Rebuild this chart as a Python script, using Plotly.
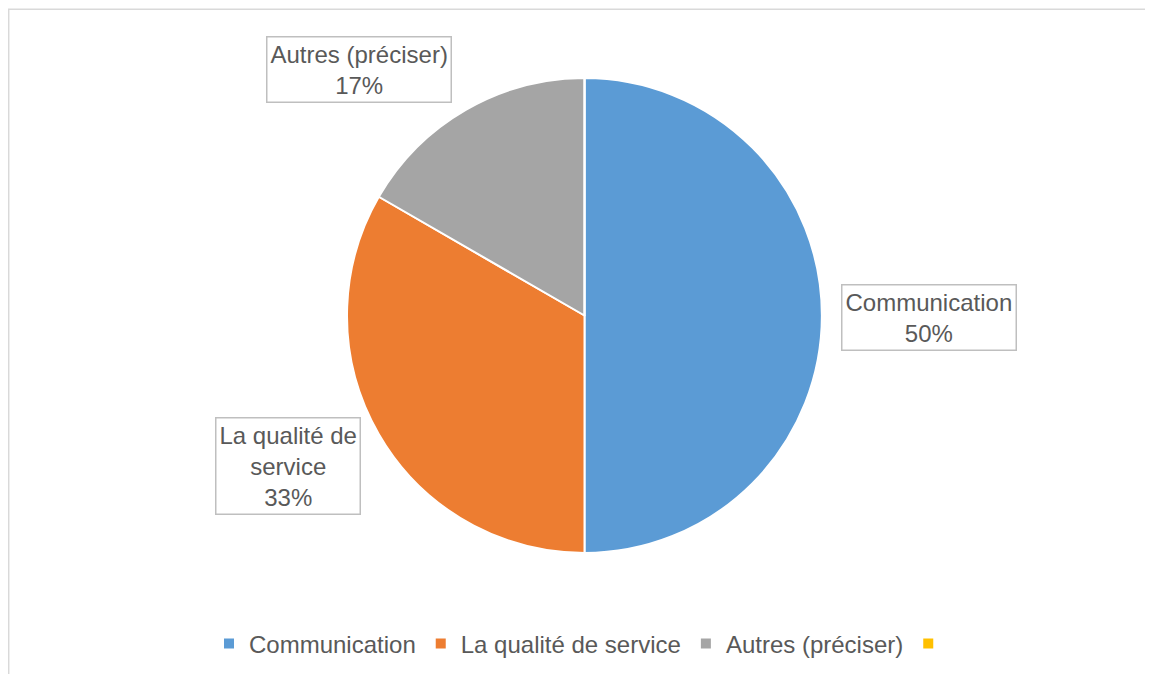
import plotly.graph_objects as go

labels = ["Communication", "La qualité de service", "Autres (préciser)", " "]
values = [3, 2, 1, 0]
colors = ["#5B9BD5", "#ED7D31", "#A5A5A5", "#FFC000"]
box_text = ["Communication<br>50%", "La qualité de<br>service<br>33%", "Autres (préciser)<br>17%"]
box_pos = [(921, 309), (280, 458), (351, 62)]

W, H = 1153, 674
cx, cy, r = 576.5, 307.5, 237.5

fig = go.Figure(go.Pie(
    labels=labels,
    values=values,
    sort=False,
    direction="clockwise",
    rotation=0,
    marker=dict(colors=colors, line=dict(color="white", width=2)),
    textinfo="none",
    hoverinfo="label+percent",
    domain=dict(x=[(cx - r) / W, (cx + r) / W], y=[1 - (cy + r) / H, 1 - (cy - r) / H]),
))

for t, (px_, py_) in zip(box_text, box_pos):
    fig.add_annotation(
        x=px_ / W, y=1 - py_ / H, xref="paper", yref="paper",
        xanchor="center", yanchor="middle",
        text=t, showarrow=False,
        font=dict(family="Liberation Sans, Arial", size=24, color="#595959"),
        bordercolor="#BFBFBF", borderwidth=1.5, borderpad=3, bgcolor="white",
    )

# chart frame
fig.add_shape(type="rect", xref="paper", yref="paper",
              x0=0.7 / W, x1=1.02, y0=-0.02, y1=1 - 1.2 / H,
              line=dict(color="#D9D9D9", width=1.5))

fig.update_layout(
    width=W, height=H,
    margin=dict(l=0, r=0, t=0, b=0),
    paper_bgcolor="white",
    plot_bgcolor="white",
    font=dict(family="Liberation Sans, Arial", color="#595959"),
    legend=dict(
        orientation="h", x=0.5, xanchor="center", y=1 - 636 / H, yanchor="middle",
        font=dict(size=24, color="#595959"),
        itemwidth=30,
    ),
)

fig.write_html("out.html")
